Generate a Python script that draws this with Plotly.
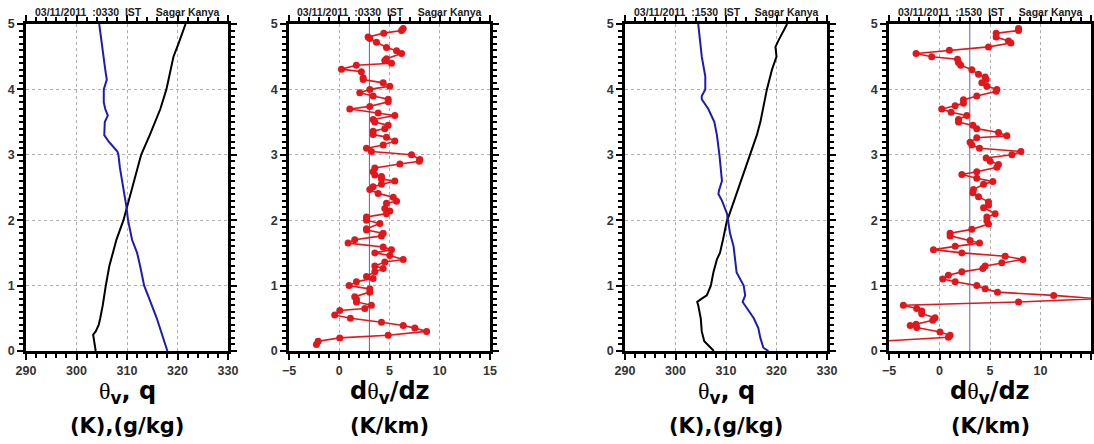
import plotly.graph_objects as go

W, H = 1094, 444

# ---------------- data ----------------
# Panel 1 : 03/11/2011 0330 IST
z_th1 = [0.0, 0.1, 0.2, 0.25, 0.3, 0.4, 0.5, 0.7, 1.0, 1.3, 1.5, 1.7, 2.0, 2.2, 2.5, 2.8, 3.0, 3.3, 3.5, 3.7, 4.0, 4.3, 4.5, 4.7, 5.0]
th1 = [303.8, 303.6, 303.3, 303.3, 303.8, 304.4, 304.7, 305.2, 305.8, 306.5, 307.2, 307.9, 309.3, 310.0, 310.9, 312.0, 312.8, 314.5, 315.6, 316.6, 317.8, 318.6, 319.2, 320.2, 321.6]
z_q1 = [0.0, 0.2, 0.5, 0.8, 1.0, 1.3, 1.5, 1.7, 2.0, 2.2, 2.5, 2.8, 3.0, 3.05, 3.2, 3.3, 3.5, 3.6, 3.7, 3.8, 4.0, 4.15, 4.3, 4.6, 5.0]
q1 = [318.0, 317.2, 315.9, 314.4, 313.4, 312.6, 312.0, 311.0, 310.2, 309.9, 309.2, 308.6, 308.3, 308.1, 306.4, 305.5, 305.6, 306.2, 305.7, 305.4, 305.4, 306.0, 305.7, 305.2, 304.5]

# Panel 2 : d(theta_v)/dz, 0330 IST
z_g1 = [4.93, 4.9, 4.86, 4.8, 4.78, 4.72, 4.64, 4.59, 4.55, 4.47, 4.44, 4.4, 4.37, 4.31, 4.27, 4.18, 4.15, 4.1, 4.05, 4.0,
        3.95, 3.9, 3.85, 3.81, 3.74, 3.7, 3.64, 3.6, 3.54, 3.5, 3.45, 3.4, 3.36, 3.31, 3.27, 3.21, 3.15, 3.1, 3.05, 3.0,
        2.93, 2.9, 2.86, 2.8, 2.74, 2.69, 2.67, 2.63, 2.6, 2.55, 2.51, 2.47, 2.41, 2.35, 2.29, 2.26, 2.18, 2.14, 2.1, 2.05,
        2.0, 1.95, 1.87, 1.85, 1.8, 1.76, 1.7, 1.65, 1.59, 1.55, 1.5, 1.46, 1.4, 1.36, 1.3, 1.26, 1.21, 1.14, 1.11, 1.06,
        1.0, 0.95, 0.9, 0.83, 0.79, 0.75, 0.7, 0.65, 0.62, 0.55, 0.5, 0.44, 0.39, 0.35, 0.3, 0.24, 0.2, 0.15, 0.1]
g1 = [6.36, 6.2, 4.43, 2.87, 3.04, 3.7, 4.7, 5.7, 6.2, 4.7, 4.53, 5.2, 1.7, 0.22, 2.2, 2.38, 2.38, 4.37, 5.03, 3.04,
      2.04, 3.37, 4.87, 4.87, 3.04, 1.05, 3.87, 5.53, 3.37, 3.54, 4.87, 4.53, 3.37, 3.37, 4.7, 5.53, 4.37, 2.71, 3.2, 7.19,
      8.02, 7.96, 6.03, 3.54, 3.37, 3.54, 4.2, 4.2, 5.53, 4.2, 3.37, 3.04, 3.87, 5.37, 5.7, 4.7, 4.53, 5.03, 4.7, 2.71,
      2.71, 4.04, 2.71, 2.71, 4.37, 4.2, 1.54, 0.88, 4.37, 5.2, 3.54, 5.03, 6.36, 4.53, 3.54, 4.37, 3.54, 2.71, 3.37, 1.71,
      0.98, 3.04, 3.04, 1.54, 1.71, 1.71, 3.2, 2.54, 0.05, -0.45, 1.11, 4.2, 6.36, 7.52, 8.69, 4.87, 0.05, -2.1, -2.27]

# Panel 3 : 03/11/2011 1530 IST
z_th2 = [0.0, 0.03, 0.1, 0.15, 0.3, 0.5, 0.7, 0.75, 0.8, 0.85, 1.0, 1.2, 1.4, 1.5, 1.7, 2.0, 2.05, 2.5, 3.0, 3.3, 3.5, 4.0, 4.3, 4.5, 4.65, 4.75, 5.0]
th2 = [307.6, 307.2, 306.2, 305.7, 305.2, 305.0, 304.5, 304.3, 305.2, 306.2, 307.0, 307.5, 308.2, 308.8, 309.4, 310.2, 310.5, 312.5, 314.8, 316.1, 316.8, 318.1, 319.1, 320.0, 319.8, 320.4, 322.1]
z_q2 = [0.0, 0.05, 0.2, 0.35, 0.5, 0.75, 0.85, 1.0, 1.2, 1.4, 1.6, 1.8, 2.0, 2.1, 2.3, 2.4, 2.45, 2.6, 3.0, 3.3, 3.5, 3.7, 3.85, 3.9, 4.0, 4.2, 4.5, 5.0]
q2 = [318.4, 317.4, 316.8, 316.4, 315.5, 313.3, 313.8, 313.5, 312.1, 311.8, 311.5, 310.8, 310.4, 310.2, 309.2, 308.5, 308.6, 309.2, 308.7, 308.2, 307.7, 306.5, 305.2, 305.2, 305.9, 305.9, 305.2, 304.5]

# Panel 4 : d(theta_v)/dz, 1530 IST
z_g2 = [4.93, 4.9, 4.86, 4.8, 4.74, 4.71, 4.65, 4.6, 4.55, 4.5, 4.46, 4.41, 4.37, 4.3, 4.23, 4.19, 4.15, 4.1, 4.05, 4.0,
        3.97, 3.9, 3.84, 3.79, 3.75, 3.7, 3.65, 3.6, 3.54, 3.5, 3.45, 3.4, 3.34, 3.29, 3.26, 3.19, 3.15, 3.1, 3.05, 3.0,
        2.95, 2.9, 2.85, 2.81, 2.74, 2.7, 2.64, 2.59, 2.55, 2.47, 2.42, 2.36, 2.28, 2.23, 2.19, 2.1, 2.05, 1.99, 1.94, 1.86,
        1.8, 1.76, 1.69, 1.65, 1.6, 1.55, 1.5, 1.45, 1.4, 1.35, 1.3, 1.26, 1.21, 1.16, 1.1, 1.06, 1.0, 0.95, 0.9, 0.85,
        0.8, 0.75, 0.7, 0.65, 0.61, 0.57, 0.51, 0.47, 0.41, 0.39, 0.36, 0.29, 0.24, 0.21, 0.14]
g2 = [7.83, 7.83, 5.61, 5.61, 6.83, 7.07, 4.85, 0.98, -2.32, -0.77, 1.78, 1.88, 2.1, 3.2, 3.86, 4.52, 4.62, 4.19, 4.69, 5.68,
      5.61, 3.69, 2.37, 2.37, 1.55, 0.22, 1.15, 2.7, 1.88, 1.88, 3.3, 3.69, 5.84, 6.67, 3.69, 3.03, 3.2, 3.96, 8.06, 7.17,
      4.62, 5.02, 5.84, 5.68, 3.69, 2.21, 3.69, 5.28, 4.36, 3.36, 3.3, 3.86, 4.85, 4.85, 4.36, 5.51, 4.69, 4.69, 4.85, 3.2,
      1.05, 1.05, 3.03, 3.96, 1.55, -0.6, 2.21, 6.5, 8.26, 6.17, 4.52, 4.29, 2.21, 0.88, 0.32, 1.55, 3.69, 4.52, 5.74, 11.3,
      15.6, 7.83, -3.58, -2.26, -1.76, -1.76, -0.44, -0.67, -2.32, -2.9, -2.26, 0.05, 1.05, 0.88, -7.0]

header1 = "03/11/2011\u00a0\u00a0:0330\u00a0\u00a0IST\u00a0\u00a0\u00a0\u00a0\u00a0Sagar Kanya"
header2 = "03/11/2011\u00a0\u00a0:1530\u00a0\u00a0IST\u00a0\u00a0\u00a0\u00a0\u00a0Sagar Kanya"
title_th = "<span style='font-family:Liberation Serif;font-weight:normal'>θ</span><sub>v</sub>, q"
title_g = "d<span style='font-family:Liberation Serif;font-weight:normal'>θ</span><sub>v</sub>/dz"
unit_th = "(K),(g/kg)"
unit_g = "(K/km)"
x_ranges = [[290, 330], [-5, 15], [290, 330], [-5, 15]]
x_dticks = [10, 5, 10, 5]
x_minor = [2, 1, 2, 1]

# ---------------- layout geometry (pixels) ----------------
px_x = [(26, 228), (289, 490), (625, 827), (889, 1091)]
top_px, bot_px = 24, 351

RED = "#e3161c"
BLUE = "#1c1cb4"

fig = go.Figure()

fig.add_trace(go.Scatter(x=th1, y=z_th1, mode="lines", line=dict(color="black", width=2), xaxis="x", yaxis="y"))
fig.add_trace(go.Scatter(x=q1, y=z_q1, mode="lines", line=dict(color=BLUE, width=2), xaxis="x", yaxis="y"))
fig.add_trace(go.Scatter(x=g1, y=z_g1, mode="lines+markers", line=dict(color=RED, width=1.6),
                         marker=dict(color=RED, size=7), xaxis="x2", yaxis="y2"))
fig.add_trace(go.Scatter(x=th2, y=z_th2, mode="lines", line=dict(color="black", width=2), xaxis="x3", yaxis="y3"))
fig.add_trace(go.Scatter(x=q2, y=z_q2, mode="lines", line=dict(color=BLUE, width=2), xaxis="x3", yaxis="y3"))
fig.add_trace(go.Scatter(x=g2, y=z_g2, mode="lines+markers", line=dict(color=RED, width=1.6),
                         marker=dict(color=RED, size=7), xaxis="x4", yaxis="y4"))

tickfont = dict(family="Liberation Sans", size=12.5, color="#333333", weight="bold")
layout = dict(
    width=W, height=H, margin=dict(l=0, r=0, t=0, b=0, autoexpand=False),
    paper_bgcolor="white", plot_bgcolor="white", showlegend=False, template="none",
)
ydom = [1 - bot_px / H, 1 - top_px / H]
annotations = []
shapes = []
for i in range(4):
    sfx = "" if i == 0 else str(i + 1)
    x0, x1 = px_x[i]
    layout["xaxis" + sfx] = dict(
        domain=[x0 / W, x1 / W], anchor="y" + sfx, range=x_ranges[i], dtick=x_dticks[i], tick0=0,
        showgrid=True, gridcolor="#b0b0b0", griddash="dot", gridwidth=1,
        showline=True, linecolor="black", linewidth=2.5, mirror="allticks",
        ticks="outside", ticklen=6, tickwidth=2, tickcolor="black",
        minor=dict(dtick=x_minor[i], ticks="outside", ticklen=4, tickwidth=1.5, tickcolor="black", showgrid=False),
        tickfont=tickfont, tickprefix="<b>", ticksuffix="</b>",
        zeroline=False, fixedrange=True, automargin=False,
    )
    layout["yaxis" + sfx] = dict(
        domain=ydom, anchor="x" + sfx, range=[0, 5], dtick=1,
        showgrid=True, gridcolor="#b0b0b0", griddash="dot", gridwidth=1,
        showline=True, linecolor="black", linewidth=2.5, mirror="allticks",
        ticks="outside", ticklen=6, tickwidth=2, tickcolor="black",
        minor=dict(dtick=0.1, ticks="outside", ticklen=4, tickwidth=1.5, tickcolor="black", showgrid=False),
        tickfont=tickfont, tickprefix="<b>", ticksuffix="</b>",
        zeroline=False, fixedrange=True, automargin=False,
    )
    cx = (x0 + x1) / 2 / W
    annotations.append(dict(text="<b>" + (header1 if i < 2 else header2) + "</b>", x=cx, y=1 - 12 / H,
                            xref="paper", yref="paper", showarrow=False, xanchor="center", yanchor="middle",
                            font=dict(family="Liberation Sans", size=10.5, color="#222222")))
    annotations.append(dict(text="<b>" + (title_th if i % 2 == 0 else title_g) + "</b>", x=cx, y=1 - 392 / H,
                            xref="paper", yref="paper", showarrow=False, xanchor="center", yanchor="middle",
                            font=dict(family="DejaVu Sans", size=24, color="black")))
    annotations.append(dict(text="<b>" + (unit_th if i % 2 == 0 else unit_g) + "</b>", x=cx, y=1 - 426 / H,
                            xref="paper", yref="paper", showarrow=False, xanchor="center", yanchor="middle",
                            font=dict(family="DejaVu Sans", size=21, color="black")))
    if i % 2 == 1:
        shapes.append(dict(type="line", xref="x" + sfx, yref="y" + sfx + " domain", x0=3, x1=3, y0=0, y1=1,
                           line=dict(color="#6060a8", width=1), layer="below"))

layout["annotations"] = annotations
layout["shapes"] = shapes
fig.update_layout(**layout)
fig.write_html("out.html", config={"displayModeBar": False},
               post_script="document.body.style.margin='0px';document.body.style.overflow='hidden';")
